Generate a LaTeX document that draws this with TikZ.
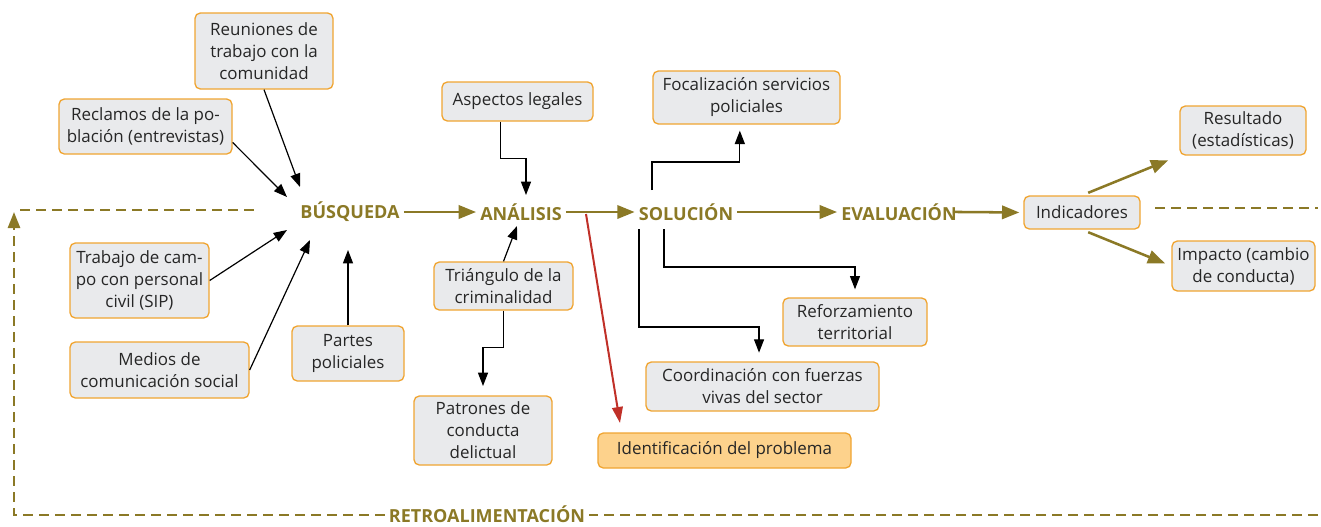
\documentclass[tikz,border=0pt]{standalone}
\usepackage{fontspec}
\setmainfont{Open Sans}
\usetikzlibrary{arrows.meta}
\definecolor{olivo}{RGB}{139,121,38}
\definecolor{borde}{RGB}{240,165,50}
\definecolor{gris}{RGB}{233,234,236}
\definecolor{naranja}{RGB}{253,210,140}
\definecolor{rojo}{RGB}{192,48,40}
\tikzset{
	caja/.style={draw=borde, fill=gris, line width=1pt, rounded corners=4pt,
		align=center, inner sep=0pt, text=black!85,
		font=\fontsize{12.7}{16.5}\selectfont},
	fase/.style={text=olivo, inner sep=3pt,
		font=\fontsize{13.5}{16}\selectfont\bfseries},
	flecha/.style={draw=olivo, line width=1.9pt, -{Triangle[length=13pt,width=10pt]}},
	conector/.style={line width=0.9pt, -{Triangle[length=10pt,width=7.5pt]}},
	retro/.style={draw=olivo, line width=1.9pt, dash pattern=on 7.5pt off 4.5pt},
}
\begin{document}
\begin{tikzpicture}[x=0.75pt, y=-0.75pt]
	\useasboundingbox (0,0) rectangle (1321,526);
	
	% fases
	\node[fase] (busq) at (350,212) {BÚSQUEDA};
	\node[fase] (anal) at (521,212) {ANÁLISIS};
	\node[fase] (sol) at (686,212) {SOLUCIÓN};
	\node[fase] (eval) at (899,212) {EVALUACIÓN};
	\node[fase] (retroal) at (487,514) {RETROALIMENTACIÓN};
	
	% cajas
	\node[caja, minimum width=103.5pt, minimum height=57pt] (reun) at (264,51)
		{Reuniones de\\trabajo con la\\comunidad};
	\node[caja, minimum width=129.75pt, minimum height=41.25pt] (recl) at (145.5,126.5)
		{Reclamos de la po-\\blación (entrevistas)};
	\node[caja, minimum width=104.25pt, minimum height=56.25pt] (trab) at (139.5,280.5)
		{Trabajo de cam-\\po con personal\\civil (SIP)};
	\node[caja, minimum width=134.25pt, minimum height=42pt] (med) at (159.5,370)
		{Medios de\\comunicación social};
	\node[caja, minimum width=84pt, minimum height=41.25pt] (part) at (348,353.5)
		{Partes\\policiales};
	\node[caja, minimum width=113.25pt, minimum height=29.25pt] (asp) at (517.5,101.5)
		{Aspectos legales};
	\node[caja, minimum width=104.25pt, minimum height=36pt] (tri) at (503.5,286)
		{Triángulo de la\\criminalidad};
	\node[caja, minimum width=103.5pt, minimum height=51.75pt] (pat) at (483,430.5)
		{Patrones de\\conducta\\delictual};
	\node[caja, minimum width=140.25pt, minimum height=39.75pt] (foc) at (746.5,97.5)
		{Focalización servicios\\policiales};
	\node[caja, minimum width=108pt, minimum height=36pt] (ref) at (855,322)
		{Reforzamiento\\territorial};
	\node[caja, minimum width=174.75pt, minimum height=36.75pt] (coord) at (762.5,386.5)
		{Coordinación con fuerzas\\vivas del sector};
	\node[caja, fill=naranja, minimum width=189.75pt, minimum height=26.25pt] (ident) at (724.5,450.5)
		{Identificación del problema};
	\node[caja, minimum width=87pt, minimum height=24.75pt] (ind) at (1082,212.5)
		{Indicadores};
	\node[caja, minimum width=94.5pt, minimum height=36.75pt] (res) at (1243,130.5)
		{Resultado\\(estadísticas)};
	\node[caja, minimum width=107.25pt, minimum height=37.5pt] (imp) at (1243.5,266)
		{Impacto (cambio\\de conducta)};
	
	% puntos libres
	\coordinate (b1) at (300,187);
	\coordinate (b2) at (287,197);
	\coordinate (b3) at (287,230);
	\coordinate (b4) at (310,240);
	\coordinate (b5) at (348,250);
	\coordinate (a1) at (526,195);
	\coordinate (a2) at (517,226);
	\coordinate (a3) at (586,214);
	\coordinate (s1) at (652,190);
	\coordinate (s2) at (664,229);
	\coordinate (s3) at (639,229);
	
	% flujo principal
	\draw[flecha] (busq) -- (anal);
	\draw[flecha] (anal) -- (sol);
	\draw[flecha] (sol) -- (eval);
	\draw[flecha, shorten <=-6pt, shorten >=3pt] (eval.east) -- (ind.west);
	\draw[flecha, shorten <=5pt, shorten >=9pt] (ind.north) -- (res.south west);
	\draw[flecha, shorten <=5pt, shorten >=5pt] (ind.south) -- (imp.west);
	
	% entradas
	\draw[conector] (reun.south) -- (b1);
	\draw[conector] ([yshift=-12pt]recl.east) -- (b2);
	\draw[conector] (trab.east) -- (b3);
	\draw[conector] (med.east) -- (b4);
	\draw[conector] (part.north) -- (b5);
	\draw[conector] ([xshift=-13pt]asp.south) -- ++(0,37) -| (a1);
	\draw[conector] (tri.north) -- (a2);
	\draw[conector, shorten >=7pt] (tri.south) -- ++(0,37) -| (pat.north);
	\draw[conector, draw=rojo, line width=1.5pt, -{Triangle[length=12pt,width=8pt]}]
		(a3) -- ([xshift=17pt, yshift=7pt]ident.north west);
	
	% salidas
	\draw[conector, shorten >=4.5pt] (s1) -- ++(0,-28) -| ([xshift=-5pt]foc.south);
	\draw[conector, shorten >=6pt] (s2) -- ++(0,38) -| (ref.north);
	\draw[conector, shorten >=6.5pt] (s3) -- ++(0,98) -| ([xshift=-2.6pt]coord.north);
	
	% retroalimentacion
	\draw[retro] (1318,515) -- (retroal.east |- 0,515);
	\draw[retro, -{Triangle[length=12pt,width=9pt]}] (retroal.west |- 0,515) -- (14,515) -- (14,212);
	\draw[retro] (20,210) -- (258,210);
	\draw[retro] (1155,208) -- (1318,208);
\end{tikzpicture}
\end{document}
